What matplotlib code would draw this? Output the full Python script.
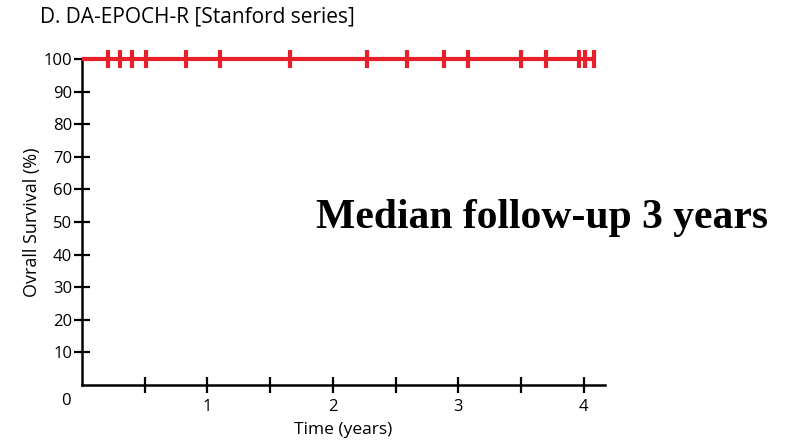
import matplotlib
matplotlib.use('Agg')
import matplotlib.pyplot as plt

# Kaplan-Meier style curve: nobody died, everyone censored along the way
censor_times = [0.21, 0.30, 0.40, 0.51, 0.83, 1.10, 1.66, 2.27, 2.59, 2.89,
                3.08, 3.50, 3.70, 3.96, 4.01, 4.08]
survival_pct = 100
last_followup = 4.08

x_ticks = [0.5, 1, 1.5, 2, 2.5, 3, 3.5, 4]
x_tick_labels = ['', '1', '', '2', '', '3', '', '4']
y_ticks = [10, 20, 30, 40, 50, 60, 70, 80, 90, 100]

RED = '#e8202b'
SANS = ['Open Sans', 'DejaVu Sans']

fig = plt.figure(figsize=(7.95, 4.47), dpi=100)
ax = fig.add_axes([82 / 795, 1 - 385 / 447, (605 - 82) / 795, (385 - 59) / 447])

ax.plot([0, last_followup], [survival_pct, survival_pct], color=RED, lw=3,
        solid_capstyle='butt', zorder=3, clip_on=False)
ax.plot(censor_times, [survival_pct] * len(censor_times), linestyle='none',
        marker='|', markersize=13, markeredgewidth=3, color=RED, zorder=4,
        clip_on=False)

ax.set_xlim(0, 4.17)
ax.set_ylim(0, 100)

for side in ('top', 'right'):
    ax.spines[side].set_visible(False)
for side in ('left', 'bottom'):
    ax.spines[side].set_linewidth(1.8)

ax.set_xticks(x_ticks)
ax.set_xticklabels(x_tick_labels, family=SANS, fontsize=12)
ax.set_yticks(y_ticks)
ax.set_yticklabels([str(v) for v in y_ticks], family=SANS, fontsize=12)
ax.tick_params(axis='both', direction='inout', length=12, width=1.6, pad=1)
ax.tick_params(axis='x', pad=4)

# lone zero at the corner
ax.text(-0.09, -2.5, '0', ha='right', va='top', family=SANS, fontsize=12,
        transform=ax.transData)

ax.set_xlabel('Time (years)', family=SANS, fontsize=12.5, labelpad=5)
ax.set_ylabel('Ovrall Survival (%)', family=SANS, fontsize=13, labelpad=2)

fig.text(40 / 795, 1 - 17 / 447, 'D. DA-EPOCH-R [Stanford series]',
         family=SANS, fontsize=15, ha='left', va='center')

fig.text(542 / 795, 1 - 218 / 447, 'Median follow-up 3 years',
         family=['Liberation Serif', 'DejaVu Serif'], fontweight='bold',
         fontsize=30, ha='center', va='center')

fig.savefig('out.png', dpi=100)
plt.close(fig)
